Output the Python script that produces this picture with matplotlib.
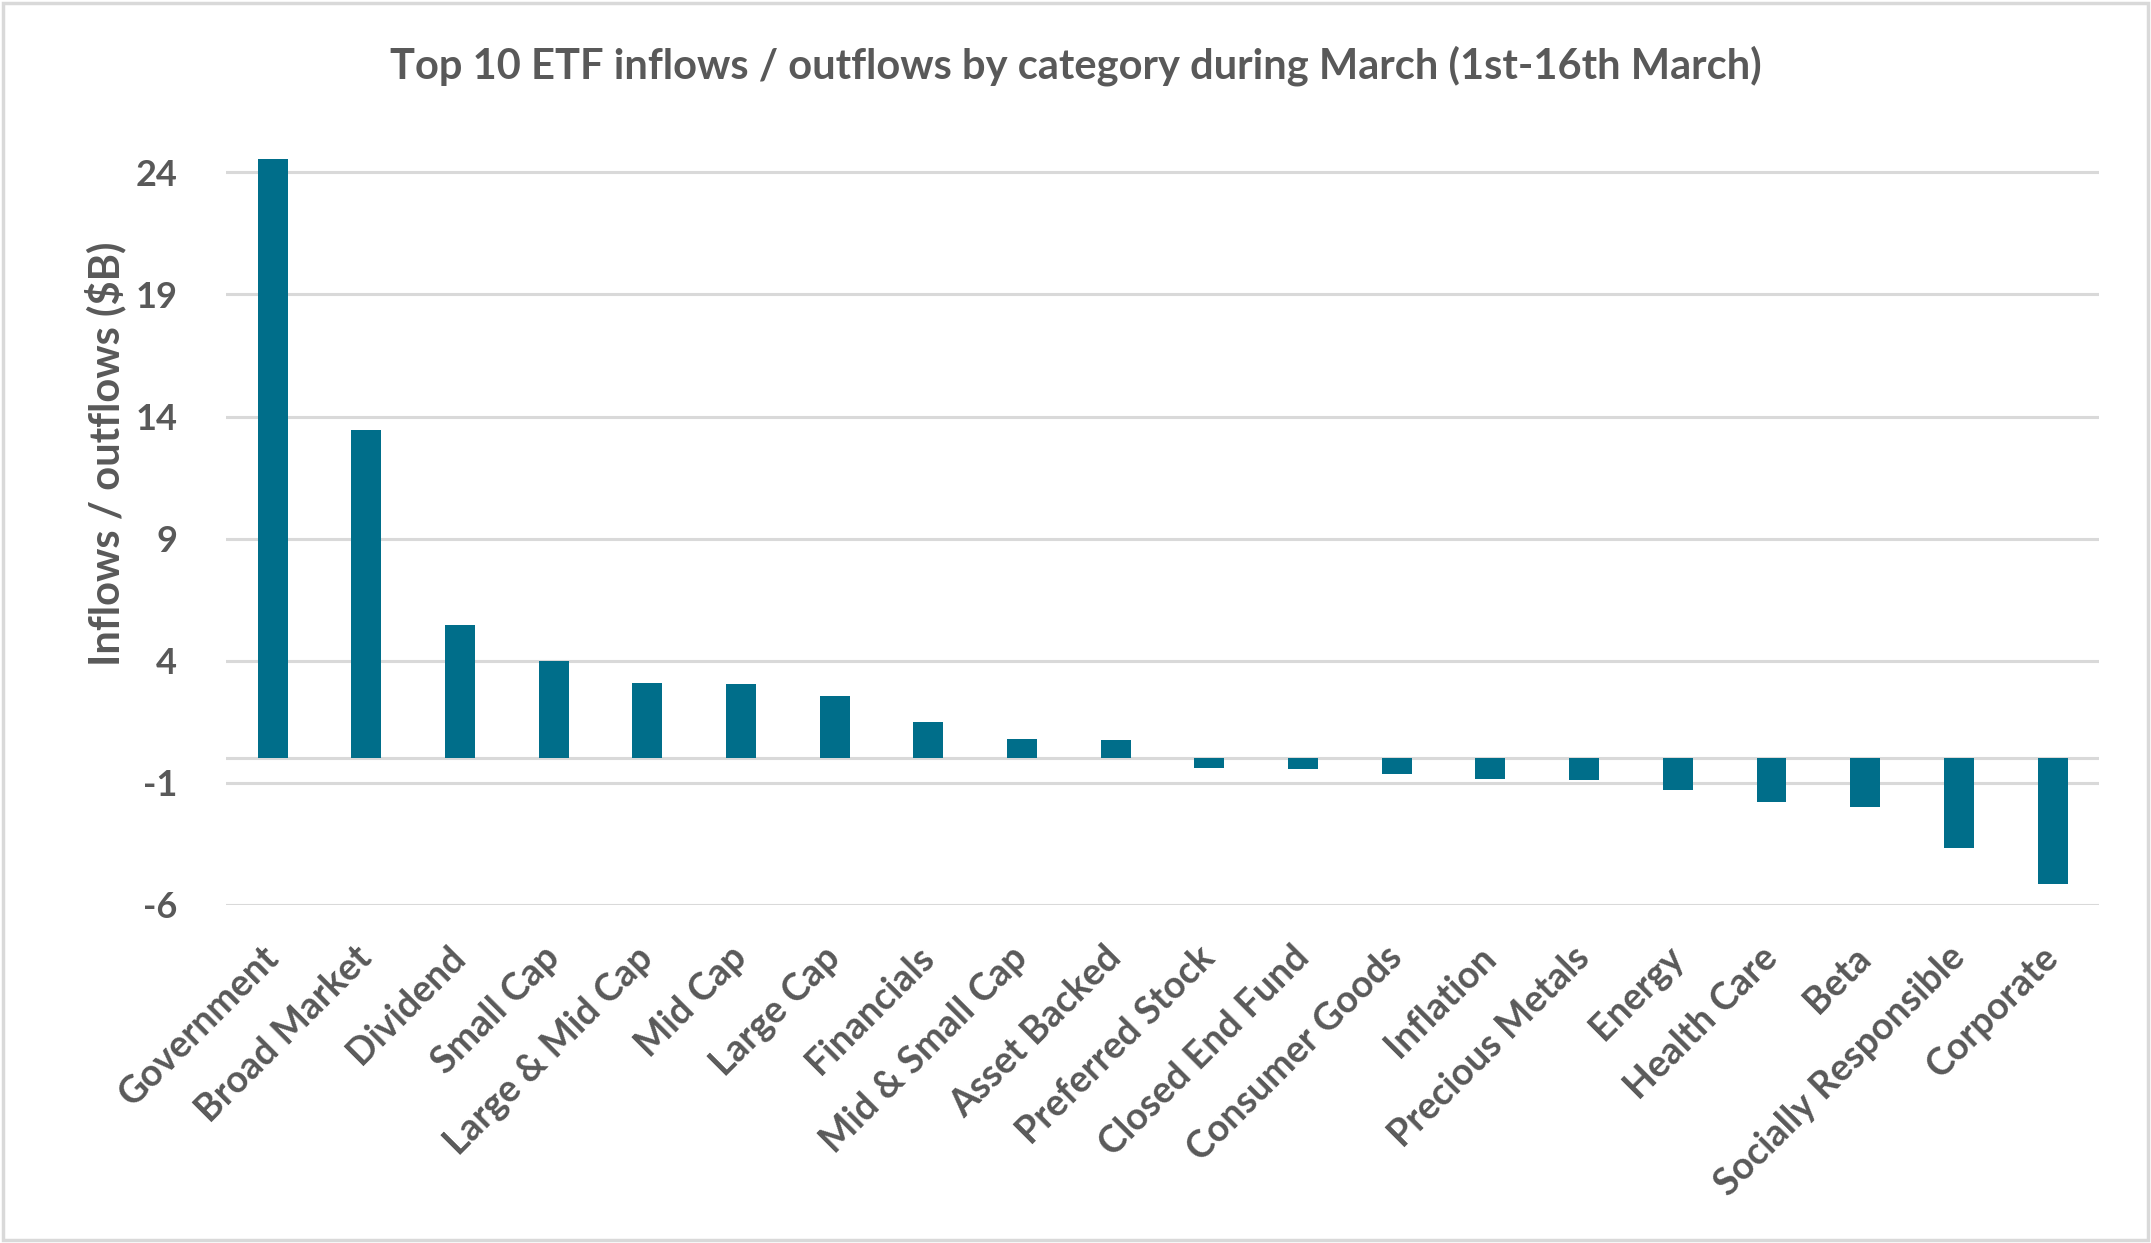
import matplotlib.pyplot as plt
from matplotlib.patches import Rectangle

# Flows by category, $B
categories = ["Government", "Broad Market", "Dividend", "Small Cap", "Large & Mid Cap",
              "Mid Cap", "Large Cap", "Financials", "Mid & Small Cap", "Asset Backed",
              "Preferred Stock", "Closed End Fund", "Consumer Goods", "Inflation",
              "Precious Metals", "Energy", "Health Care", "Beta",
              "Socially Responsible", "Corporate"]
flows = [24.55, 13.45, 5.46, 4.0, 3.1, 3.05, 2.54, 1.47, 0.8, 0.74,
         -0.41, -0.45, -0.65, -0.86, -0.88, -1.31, -1.79, -2.0, -3.68, -5.14]
yticks = [-6, -1, 4, 9, 14, 19, 24]

bar_color = "#006E8A"
grid_color = "#D9D9D9"
text_color = "#595959"

plt.rcParams['font.family'] = ['Lato', 'DejaVu Sans']

fig = plt.figure(figsize=(21.51, 12.43), dpi=100)
ax = fig.add_axes([0.105, 0.272, 0.871, 0.609])

x = list(range(len(categories)))
ax.bar(x, flows, width=0.32, color=bar_color, zorder=3)

ax.set_xlim(-0.5, len(categories) - 0.5)
ax.set_ylim(-6, 25)
ax.set_yticks(yticks)
ax.set_yticklabels([str(t) for t in yticks], fontweight='bold',
                   fontsize=26, color=text_color)
ax.yaxis.grid(True, color=grid_color, linewidth=2.2, zorder=0)
ax.axhline(0, color=grid_color, linewidth=2.2, zorder=1)
ax.tick_params(axis='y', length=0, pad=35)

ax.set_xticks(x)
ax.set_xticklabels(categories, rotation=45, ha='right', va='center',
                   rotation_mode='anchor', fontsize=27, fontweight='bold',
                   color=text_color)
ax.tick_params(axis='x', length=0, pad=34)

for s in ax.spines.values():
    s.set_visible(False)

fig.text(0.5, 0.947, "Top 10 ETF inflows / outflows by category during March (1st-16th March)",
         ha='center', va='center', fontsize=30, fontweight='bold', color=text_color)
fig.text(0.049, 0.635, "Inflows / outflows ($B)", rotation=90, ha='center', va='center',
         fontsize=30, fontweight='bold', color=text_color)

# light border round the whole picture
fig.patches.append(Rectangle((0.0015, 0.0025), 0.997, 0.995, transform=fig.transFigure,
                             fill=False, edgecolor=grid_color, linewidth=2.5))

fig.savefig("out.png", dpi=100)
